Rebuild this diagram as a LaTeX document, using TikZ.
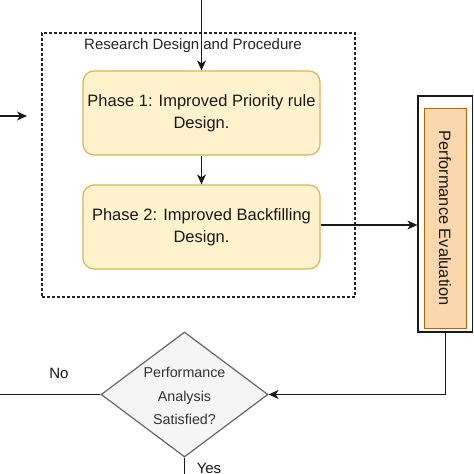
\documentclass[tikz,border=0pt]{standalone}
\usepackage{fontspec}
\setmainfont{Liberation Sans}
\usetikzlibrary{shapes.geometric,arrows.meta,calc}
\definecolor{phfill}{HTML}{FFF2CC}
\definecolor{phdraw}{HTML}{D6B656}
\definecolor{orfill}{HTML}{FAD7AC}
\definecolor{ordraw}{HTML}{B46504}
\definecolor{dfill}{HTML}{F5F5F5}
\definecolor{ddraw}{HTML}{666666}
\definecolor{dtext}{HTML}{333333}
\tikzset{
  conn/.style={line width=1.4pt, draw=black!90},
  arr/.style={conn, -{Stealth[length=10pt,width=9pt,inset=3pt]}},
  phase/.style={draw=phdraw, fill=phfill, line width=1.2pt, rounded corners=11pt,
    minimum width=237pt, minimum height=84pt, align=center, inner sep=0pt,
    font=\fontsize{16.5}{22}\selectfont, text=black!90},
  container/.style={draw=black!85, line width=1.3pt, dash pattern=on 3pt off 2pt,
    minimum width=313pt, minimum height=264pt, inner sep=0pt},
  outerbox/.style={draw=black!90, line width=1.2pt, fill=white,
    minimum width=54.5pt, minimum height=236pt, inner sep=0pt},
  innerbox/.style={draw=ordraw, fill=orfill, line width=1pt,
    minimum width=42pt, minimum height=220pt, inner sep=0pt},
  decision/.style={diamond, draw=ddraw, fill=dfill, line width=1.2pt,
    minimum width=167pt, minimum height=125pt, inner sep=0pt, aspect=1.336},
  lbl/.style={font=\fontsize{15}{18}\selectfont, text=black!90, inner sep=0pt},
}
\begin{document}
\begin{tikzpicture}[x=1pt,y=-1pt]
\useasboundingbox (0,0) rectangle (474,474);
\clip (0,0) rectangle (474,474);
\fill[white] (0,0) rectangle (474,474);

\node[container] (cont) at (198.5,165) {};
\node[lbl, font=\fontsize{15}{18}\selectfont, text=black!85] (title) at (193,46) {Research Design and Procedure};

\node[phase] (ph1) at (201.5,113) {Phase 1: Improved Priority rule\\Design.};
\node[phase] (ph2) at (201.5,227) {Phase 2: Improved Backfilling\\Design.};

\node[outerbox] (outer) at (445.25,214) {};
\node[innerbox] (inner) at (445,218) {};
\node[rotate=-90, inner sep=0pt, font=\fontsize{16.4}{20}\selectfont, text=black!90] (pelabel) at (inner.center) {Performance Evaluation};

\node[decision] (dec) at (184.5,394.5) {};
\node[align=center, inner sep=0pt, text=dtext, font=\fontsize{14.3}{23.5}\selectfont] (dectxt) at (184.5,396) {Performance\\Analysis\\Satisfied?};

\coordinate (topin) at (201.5,-2);
\coordinate (loopcorner) at (-6,394.5);
\coordinate (loopend) at (27,116);
\coordinate (yesout) at (184.5,480);

\draw[arr] (topin) -- (ph1.north);
\draw[arr] (ph1.south) -- (ph2.north);
\draw[arr] ($(ph2.east)+(0,-2)$) -- ($(ph2.east -| outer.west)+(0,-2)$);
\draw[arr] (outer.south) |- (dec.east);
\draw[arr] (dec.west) -- (loopcorner) |- (loopend);
\draw[conn] (dec.south) -- (yesout);

\node[lbl] (no) at (59,373) {No};
\node[lbl] (yes) at (209,468) {Yes};
\end{tikzpicture}
\end{document}
